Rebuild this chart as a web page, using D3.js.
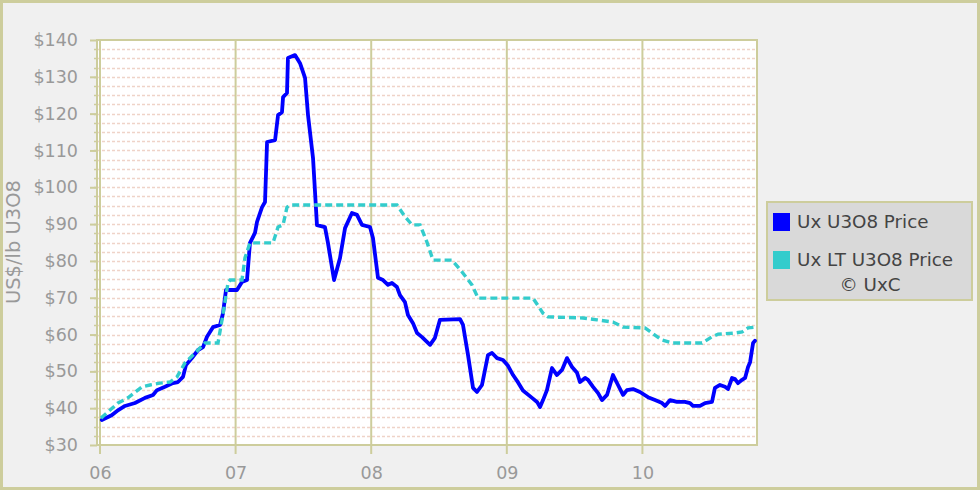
<!DOCTYPE html>
<html>
<head>
<meta charset="utf-8">
<script src="https://cdnjs.cloudflare.com/ajax/libs/d3/7.8.5/d3.min.js"></script>
<style>
  body { margin: 0; background: #f0f0f0; }
  svg { display: block; font-family: "DejaVu Sans", Verdana, sans-serif; }
</style>
</head>
<body>
<div id="chart"></div>
<script>
// spot price (decimal year, US$/lb)
const spotYear = [2006.013, 2006.086, 2006.135, 2006.184, 2006.258, 2006.332, 2006.391, 2006.420, 2006.479, 2006.538,
  2006.575, 2006.612, 2006.634, 2006.678, 2006.723, 2006.760, 2006.789, 2006.833, 2006.885, 2006.907,
  2006.929, 2007.010, 2007.047, 2007.084, 2007.106, 2007.143, 2007.158, 2007.195, 2007.217, 2007.232,
  2007.291, 2007.313, 2007.342, 2007.350, 2007.379, 2007.386, 2007.438, 2007.475, 2007.512, 2007.534,
  2007.571, 2007.600, 2007.659, 2007.681, 2007.726, 2007.770, 2007.807, 2007.858, 2007.895, 2007.932,
  2007.991, 2008.013, 2008.050, 2008.087, 2008.124, 2008.153, 2008.190, 2008.212, 2008.249, 2008.271,
  2008.308, 2008.338, 2008.375, 2008.411, 2008.434, 2008.470, 2008.507, 2008.655, 2008.677, 2008.714,
  2008.751, 2008.780, 2008.817, 2008.861, 2008.891, 2008.928, 2008.972, 2009.009, 2009.046, 2009.083,
  2009.119, 2009.186, 2009.223, 2009.245, 2009.267, 2009.296, 2009.333, 2009.370, 2009.407, 2009.444,
  2009.481, 2009.518, 2009.540, 2009.577, 2009.599, 2009.636, 2009.673, 2009.702, 2009.739, 2009.783,
  2009.820, 2009.857, 2009.886, 2009.931, 2009.982, 2010.041, 2010.093, 2010.145, 2010.167, 2010.204,
  2010.255, 2010.314, 2010.351, 2010.373, 2010.425, 2010.462, 2010.513, 2010.535, 2010.572, 2010.609,
  2010.631, 2010.661, 2010.683, 2010.705, 2010.735, 2010.757, 2010.779, 2010.794, 2010.816, 2010.830];
const spotPrice = [36.8, 38.1, 39.5, 40.6, 41.4, 42.8, 43.6, 44.9, 45.8, 46.8,
  47.1, 48.5, 51.7, 53.6, 55.8, 56.6, 59.4, 62.0, 62.6, 65.8,
  72.1, 72.1, 74.3, 74.8, 84.9, 87.6, 90.6, 94.6, 96.0, 112.3,
  112.8, 119.6, 120.4, 124.5, 125.6, 135.1, 135.9, 133.7, 129.7, 119.6,
  107.9, 89.7, 89.2, 84.9, 74.8, 80.8, 88.9, 93.0, 92.5, 89.8,
  89.2, 86.2, 75.4, 74.8, 73.5, 74.0, 72.9, 70.7, 68.8, 65.3,
  63.1, 60.4, 59.3, 58.0, 57.2, 59.1, 64.0, 64.2, 62.6, 54.4,
  45.5, 44.4, 46.3, 54.4, 55.0, 53.6, 53.1, 51.5, 49.0, 47.0,
  44.8, 42.8, 41.7, 40.3, 42.2, 44.9, 50.9, 49.0, 50.4, 53.6,
  51.2, 49.6, 47.1, 48.2, 47.7, 45.8, 44.1, 42.2, 43.6, 49.0,
  46.3, 43.6, 44.9, 45.2, 44.4, 43.0, 42.2, 41.4, 40.6, 42.2,
  41.7, 41.7, 41.4, 40.6, 40.6, 41.4, 41.7, 45.5, 46.3, 45.8,
  45.2, 48.2, 47.9, 46.8, 47.7, 48.2, 51.2, 52.5, 57.7, 58.3];

// long-term price
const ltYear = [2006.007, 2006.133, 2006.206, 2006.310, 2006.369, 2006.442, 2006.516, 2006.568, 2006.627, 2006.701,
  2006.774, 2006.870, 2006.900, 2006.944, 2006.959, 2007.047, 2007.069, 2007.106, 2007.276, 2007.313,
  2007.350, 2007.379, 2007.401, 2008.190, 2008.249, 2008.301, 2008.360, 2008.411, 2008.456, 2008.596,
  2008.670, 2008.743, 2008.788, 2009.193, 2009.267, 2009.304, 2009.562, 2009.665, 2009.783, 2009.857,
  2010.019, 2010.071, 2010.145, 2010.218, 2010.440, 2010.513, 2010.558, 2010.683, 2010.735, 2010.779,
  2010.830];
const ltPrice = [37.3, 41.4, 42.8, 45.8, 46.3, 46.8, 47.1, 48.5, 52.3, 55.0,
  57.7, 57.7, 64.0, 74.0, 74.8, 74.8, 80.8, 84.9, 84.9, 89.2,
  89.8, 94.6, 95.2, 95.2, 92.0, 89.8, 89.8, 85.1, 80.2, 80.2,
  77.0, 73.5, 69.9, 69.9, 65.8, 64.8, 64.5, 64.0, 63.4, 62.0,
  61.8, 60.4, 58.5, 57.7, 57.7, 59.4, 60.1, 60.4, 60.7, 61.8,
  62.0];

const yearTicks = [2006, 2007, 2008, 2009, 2010];
const yearLabels = ["06", "07", "08", "09", "10"];
const priceTicks = [30, 40, 50, 60, 70, 80, 90, 100, 110, 120, 130, 140];
const seriesNames = ["Ux U3O8 Price", "Ux LT U3O8 Price"];
const seriesColors = ["#0000ff", "#33cccc"];

const W = 980, H = 490;
const plot = {left: 97, top: 40, right: 757, bottom: 445};
const olive = "#cdcd9c";

const svg = d3.select("#chart").append("svg")
  .attr("width", W)
  .attr("height", H);

svg.append("rect")
  .attr("x", 1.5).attr("y", 1.5)
  .attr("width", W - 3).attr("height", H - 3)
  .attr("fill", "#f0f0f0")
  .attr("stroke", olive)
  .attr("stroke-width", 3);

const x = d3.scaleLinear().domain([2006, 2010.845]).range([100, plot.right]);
const y = d3.scaleLinear().domain([30, 140]).range([plot.bottom, plot.top]);

// plot background
svg.append("rect")
  .attr("x", plot.left).attr("y", plot.top)
  .attr("width", plot.right - plot.left)
  .attr("height", plot.bottom - plot.top)
  .attr("fill", "#ffffff");

// minor dashed grid every 2.5
const minor = d3.range(32.5, 140, 2.5);
svg.append("g")
  .selectAll("line")
  .data(minor)
  .join("line")
  .attr("x1", plot.left).attr("x2", plot.right)
  .attr("y1", d => Math.round(y(d)) + 0.5)
  .attr("y2", d => Math.round(y(d)) + 0.5)
  .attr("stroke", "#efd3c8")
  .attr("stroke-width", 1.3)
  .attr("stroke-dasharray", "3,2");

// minor ticks on the left
svg.append("g")
  .selectAll("line")
  .data(minor)
  .join("line")
  .attr("x1", plot.left - 3).attr("x2", plot.left)
  .attr("y1", d => Math.round(y(d)) + 0.5)
  .attr("y2", d => Math.round(y(d)) + 0.5)
  .attr("stroke", olive)
  .attr("stroke-width", 1.5);

// year grid lines + ticks
svg.append("g")
  .selectAll("line")
  .data(yearTicks)
  .join("line")
  .attr("x1", d => x(d)).attr("x2", d => x(d))
  .attr("y1", plot.top).attr("y2", plot.bottom + 9)
  .attr("stroke", olive)
  .attr("stroke-width", 2);

// frame
svg.append("rect")
  .attr("x", plot.left).attr("y", plot.top)
  .attr("width", plot.right - plot.left)
  .attr("height", plot.bottom - plot.top)
  .attr("fill", "none")
  .attr("stroke", olive)
  .attr("stroke-width", 2);

// y axis
const yAxis = d3.axisLeft(y)
  .tickValues(priceTicks)
  .tickSize(7)
  .tickPadding(12)
  .tickFormat(d => "$" + d);

const gy = svg.append("g")
  .attr("transform", `translate(${plot.left},0)`)
  .call(yAxis);
gy.select(".domain").remove();
gy.selectAll(".tick line").attr("stroke", olive).attr("stroke-width", 2);
gy.selectAll(".tick text")
  .attr("fill", "#999999")
  .attr("font-size", 17.5)
  .attr("font-family", "DejaVu Sans, Verdana, sans-serif");

// x labels
const xAxis = d3.axisBottom(x)
  .tickValues(yearTicks)
  .tickSize(0)
  .tickPadding(22)
  .tickFormat((d, i) => yearLabels[i]);

const gx = svg.append("g")
  .attr("transform", `translate(0,${plot.bottom})`)
  .call(xAxis);
gx.select(".domain").remove();
gx.selectAll(".tick text")
  .attr("fill", "#999999")
  .attr("font-size", 17.5)
  .attr("font-family", "DejaVu Sans, Verdana, sans-serif");

// axis title
svg.append("text")
  .attr("transform", "translate(20,242) rotate(-90)")
  .attr("text-anchor", "middle")
  .attr("fill", "#999999")
  .attr("font-size", 19.5)
  .text("US$/lb U3O8");

// lines
const line = d3.line()
  .x(d => x(d[0]))
  .y(d => y(d[1]));

const spot = spotYear.map((t, i) => [t, spotPrice[i]]);
const lt = ltYear.map((t, i) => [t, ltPrice[i]]);

svg.append("path")
  .datum(spot)
  .attr("d", line)
  .attr("fill", "none")
  .attr("stroke", seriesColors[0])
  .attr("stroke-width", 3.8)
  .attr("stroke-linejoin", "round")
  .attr("stroke-linecap", "round");

svg.append("path")
  .datum(lt)
  .attr("d", line)
  .attr("fill", "none")
  .attr("stroke", seriesColors[1])
  .attr("stroke-width", 3.4)
  .attr("stroke-dasharray", "7,4");

// legend
const lg = svg.append("g").attr("transform", "translate(767,202)");
lg.append("rect")
  .attr("width", 205).attr("height", 98)
  .attr("fill", "#d9d9d9")
  .attr("stroke", olive)
  .attr("stroke-width", 2);

seriesNames.forEach((name, i) => {
  lg.append("rect")
    .attr("x", 6).attr("y", 11 + i * 38)
    .attr("width", 17).attr("height", 18)
    .attr("fill", seriesColors[i]);
  lg.append("text")
    .attr("x", 30).attr("y", 26 + i * 38)
    .attr("fill", "#444444")
    .attr("font-size", 18.3)
    .text(name);
});

lg.append("text")
  .attr("x", 103).attr("y", 89)
  .attr("text-anchor", "middle")
  .attr("fill", "#444444")
  .attr("font-size", 18.3)
  .text("© UxC");
</script>
</body>
</html>
